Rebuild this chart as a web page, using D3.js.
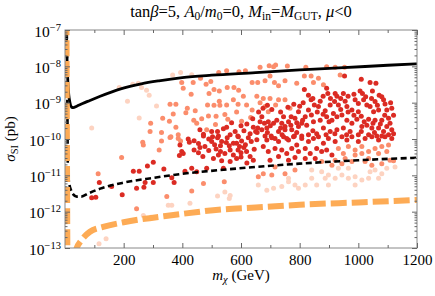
<!DOCTYPE html>
<html>
<head>
<meta charset="utf-8">
<script src="https://cdn.jsdelivr.net/npm/d3@7"></script>
<style>
body { margin: 0; background: #fff; }
svg text { font-family: "Liberation Serif", "Times New Roman", serif; }
</style>
</head>
<body>
<script>
// Tick values
var xMajor = [200, 400, 600, 800, 1000, 1200];
var xMinor = [100, 300, 500, 700, 900, 1100];
var yExponents = [-13, -12, -11, -10, -9, -8, -7];

// Current limit (solid black): [m_chi (GeV), sigma_SI (pb)]
var limitNow = [[4, 1.5e-7], [6, 3e-8], [8, 8e-9], [10, 3.5e-9], [13, 1.6e-9], [17, 1.0e-9],
    [22, 7.6e-10], [28, 7.3e-10], [40, 8.0e-10], [60, 9.5e-10], [85, 1.15e-9], [120, 1.5e-9],
    [190, 2.4e-9], [260, 3.3e-9], [320, 4.0e-9], [400, 4.9e-9], [500, 5.7e-9], [650, 6.7e-9],
    [800, 8.0e-9], [950, 9.2e-9], [1100, 1.07e-8], [1200, 1.17e-8]];

// Projected limit (dashed black)
var limitFuture = [[6, 1.5e-7], [8, 1e-9], [10, 1.1e-11], [12, 8e-12], [15, 5.5e-12], [20, 4e-12],
    [28, 3e-12], [40, 2.6e-12], [55, 2.6e-12], [80, 3.2e-12], [120, 4.3e-12], [200, 6.3e-12],
    [300, 8.5e-12], [400, 1.1e-11], [550, 1.45e-11], [650, 1.7e-11], [800, 2.1e-11],
    [1000, 2.6e-11], [1200, 3.05e-11]];

// Neutrino background (thick orange dashed)
var neutrinoFloor = [[5, 2e-7], [6, 1e-9], [7, 1e-11], [8, 1e-13], [9, 3e-14], [20, 2e-14],
    [30, 5e-14], [40, 1.0e-13], [55, 1.6e-13], [85, 2.8e-13], [130, 3.8e-13], [200, 5.1e-13],
    [370, 8.1e-13], [540, 1.16e-12], [650, 1.3e-12], [800, 1.55e-12], [1000, 1.8e-12],
    [1200, 2.1e-12]];

// Scan points, light
var pointsPale = [[91, 2.0e-10], [185, 2.6e-9], [213, 1.1e-9], [231, 3.2e-9], [250, 3.4e-9], [261, 2.6e-9],
    [278, 2.2e-9], [287, 1.6e-9], [253, 3.8e-10], [312, 8.1e-10], [367, 5.8e-9], [394, 6.8e-9], [432, 5.9e-9],
    [659, 5.4e-12], [688, 3.9e-12], [711, 4.4e-12], [739, 4.9e-12], [762, 6.7e-12], [784, 5.4e-12],
    [796, 4.4e-12], [819, 5.4e-12], [841, 8.3e-12], [858, 5.4e-12], [887, 8.3e-12], [898, 1.02e-11],
    [921, 8.3e-12], [944, 1.02e-11], [966, 8.3e-12], [989, 9.2e-12], [1012, 7.4e-12], [1040, 1.26e-11],
    [1057, 1.4e-11], [1080, 1.1e-11], [1097, 1.56e-11], [1069, 8.3e-12], [1035, 8.3e-12], [966, 1.56e-11],
    [932, 1.56e-11], [875, 1.26e-11], [841, 1.4e-11], [898, 5.4e-12], [989, 5.4e-12], [1125, 1.7e-11],
    [762, 8.3e-12], [267, 7.8e-13], [293, 7.0e-13], [352, 1.5e-12], [364, 1.5e-12], [426, 1.7e-12],
    [520, 2.7e-12], [545, 3.5e-12], [563, 2.8e-12], [560, 2.3e-12], [140, 1.8e-13], [116, 1.3e-13]];

// Scan points, medium
var pointsSalmon = [[398, 3.6e-9], [437, 3.6e-9], [462, 4.7e-9], [481, 3.2e-9], [497, 3.8e-9], [524, 6.8e-9],
    [551, 7.6e-9], [593, 7.1e-9], [615, 7.6e-9], [638, 3.6e-9], [403, 2.5e-9], [430, 1.7e-9], [491, 1.8e-9],
    [508, 2.3e-9], [526, 2.1e-9], [553, 2.6e-9], [576, 2.6e-9], [592, 2.2e-9], [608, 1.5e-9], [358, 9.0e-10],
    [378, 9.0e-10], [417, 7.0e-10], [412, 5.3e-10], [444, 6.0e-10], [369, 4.9e-10], [486, 8.6e-10],
    [508, 8.5e-10], [526, 1.1e-9], [528, 8.5e-10], [551, 8.6e-10], [574, 1.2e-9], [590, 9.0e-10],
    [619, 8.6e-10], [638, 6.3e-10], [292, 2.7e-10], [333, 3.7e-10], [356, 3.1e-10], [378, 2.1e-10],
    [290, 1.6e-10], [329, 1.5e-10], [386, 1.3e-10], [439, 3.3e-10], [449, 2.7e-10], [466, 3.6e-10],
    [483, 1.8e-10], [489, 4.3e-10], [515, 4.2e-10], [513, 2.5e-10], [545, 4.7e-10], [555, 3.5e-10],
    [585, 5.5e-10], [602, 3.1e-10], [633, 3.9e-10], [358, 1.1e-10],
    [665, 9.4e-9], [696, 1.04e-8], [711, 9.8e-9], [718, 1.09e-8], [758, 1.02e-8], [821, 9.4e-9],
    [657, 3.6e-9], [682, 4.0e-9], [699, 5.4e-9], [714, 3.6e-9], [728, 2.9e-9], [750, 4.0e-9],
    [790, 3.4e-9], [816, 5.4e-9], [839, 5.4e-9], [847, 3.6e-9], [864, 4.7e-9], [881, 3.1e-9],
    [892, 9.8e-9], [921, 9.4e-9], [938, 5.8e-9], [953, 9.4e-9], [654, 1.5e-9], [665, 1.0e-9],
    [676, 1.3e-9], [699, 1.3e-9], [728, 1.2e-9], [718, 8.6e-10], [750, 1.2e-9], [767, 7.0e-10],
    [682, 7.8e-10], [693, 5.6e-10],
    [932, 5.5e-11], [949, 4.0e-11], [966, 6.2e-11], [989, 5.0e-11], [1012, 6.2e-11], [1035, 4.5e-11],
    [1057, 5.5e-11], [1080, 6.2e-11], [1103, 6.8e-11], [676, 1.1e-11], [705, 1.02e-11], [750, 1.1e-11],
    [784, 1.4e-11], [659, 9.2e-12], [716, 1.7e-11], [875, 2.4e-11], [910, 1.9e-11], [944, 2.1e-11],
    [978, 2.4e-11], [1023, 2.4e-11], [1046, 1.9e-11], [1080, 2.1e-11], [1108, 2.6e-11], [1120, 2.5e-11],
    [989, 3.6e-11], [1012, 4.0e-11], [1069, 4.0e-11], [1097, 4.5e-11], [921, 2.6e-11], [955, 2.9e-11],
    [1035, 2.9e-11],
    [265, 8.1e-11], [267, 6.8e-11], [329, 8.8e-11], [361, 1.16e-10], [386, 1.04e-10], [394, 8.8e-11],
    [193, 3.1e-11], [321, 5.0e-11], [113, 1.1e-11], [244, 1.2e-12], [347, 2.6e-12], [432, 3.7e-12],
    [472, 6.0e-12], [543, 6.7e-12]];

// Scan points, dark
var pointsRed = [[472, 1.35e-10], [503, 1.16e-10], [523, 1.2e-10], [551, 2.1e-10], [563, 1.3e-10],
    [568, 2.8e-10], [589, 1.2e-10], [610, 1.7e-10], [631, 1.4e-10], [642, 2.1e-10], [640, 3.6e-10],
    [816, 2.3e-9], [830, 1.6e-9], [839, 1.2e-9], [892, 2.5e-9], [896, 1.8e-9], [921, 1.8e-9], [927, 1.5e-9],
    [949, 1.8e-9], [953, 5.4e-9], [1010, 4.4e-9], [1006, 2.1e-9], [1014, 1.8e-9], [1040, 3.6e-9],
    [1060, 3.4e-9], [1048, 2.1e-9], [1071, 1.6e-9], [1091, 9.2e-10], [1114, 7.0e-10], [1086, 1.2e-9],
    [1057, 1.07e-9], [989, 1.2e-9], [1018, 1.2e-9], [1029, 8.6e-10], [1040, 7.8e-10], [1052, 5.6e-10],
    [1069, 6.3e-10], [1097, 6.3e-10], [1103, 3.7e-10], [1108, 2.7e-10], [1080, 3.3e-10], [1057, 3.3e-10],
    [1035, 3.5e-10], [1000, 5.6e-10], [978, 6.3e-10], [955, 1.1e-9], [961, 7.8e-10], [932, 8.6e-10],
    [919, 1.07e-9], [904, 8.6e-10], [887, 6.0e-10], [864, 7.8e-10], [850, 8.6e-10], [830, 6.3e-10],
    [819, 4.1e-10], [796, 5.6e-10], [784, 3.7e-10], [771, 4.1e-10], [762, 3.0e-10], [745, 4.1e-10],
    [739, 2.7e-10], [722, 3.3e-10], [711, 2.7e-10], [693, 3.0e-10], [671, 4.1e-10], [657, 2.0e-10],
    [671, 1.8e-10], [688, 2.0e-10], [703, 1.2e-10], [728, 1.6e-10], [750, 1.8e-10], [773, 1.8e-10],
    [796, 2.2e-10], [807, 2.7e-10], [824, 2.4e-10], [847, 3.0e-10], [870, 3.3e-10], [892, 4.1e-10],
    [910, 3.3e-10], [927, 4.1e-10], [944, 4.6e-10], [961, 3.3e-10], [978, 2.7e-10], [995, 3.5e-10],
    [1012, 2.2e-10], [1029, 2.4e-10], [1046, 2.0e-10], [1069, 2.0e-10], [1086, 1.6e-10], [1103, 1.3e-10],
    [1114, 1.8e-10], [1097, 2.2e-10], [1063, 1.2e-10], [1035, 1.3e-10], [1000, 1.3e-10], [972, 1.6e-10],
    [949, 2.0e-10], [927, 1.8e-10], [904, 1.6e-10], [881, 2.0e-10], [858, 1.4e-10], [830, 1.3e-10],
    [807, 1.2e-10], [782, 1.2e-10], [756, 1.04e-10], [716, 1.04e-10], [682, 1.2e-10],
    [654, 9.6e-11], [688, 9.4e-11], [705, 1.09e-10], [728, 8.5e-11], [745, 1.16e-10], [762, 9.4e-11],
    [779, 1.16e-10], [790, 6.8e-11], [807, 1.04e-10], [830, 8.5e-11], [847, 1.04e-10], [864, 1.16e-10],
    [881, 7.6e-11], [898, 1.04e-10], [921, 8.5e-11], [944, 1.16e-10], [961, 9.4e-11], [978, 1.16e-10],
    [1000, 8.5e-11], [1023, 1.04e-10], [1046, 1.16e-10], [1069, 9.4e-11], [1091, 1.16e-10], [1114, 1.04e-10],
    [676, 6.2e-11], [693, 4.5e-11], [716, 5.5e-11], [739, 5.0e-11], [756, 4.0e-11], [773, 5.5e-11],
    [796, 4.5e-11], [819, 5.5e-11], [836, 4.0e-11], [858, 5.5e-11], [875, 4.5e-11], [892, 5.0e-11],
    [910, 3.6e-11], [699, 2.6e-11], [728, 3.3e-11], [762, 2.6e-11], [784, 3.1e-11], [819, 2.9e-11],
    [853, 2.9e-11],
    [424, 8.1e-11], [392, 6.8e-11], [398, 4.5e-11], [390, 3.5e-11], [403, 4.0e-11], [460, 5.8e-11],
    [477, 6.2e-11], [472, 1.2e-10], [500, 8.5e-11], [515, 5.3e-11], [523, 3.6e-11], [506, 2.9e-11],
    [534, 2.5e-11], [545, 4.0e-11], [563, 5.0e-11], [574, 3.6e-11], [585, 7.6e-11], [602, 8.8e-11],
    [610, 5.8e-11], [619, 4.5e-11], [631, 3.3e-11], [642, 2.6e-11], [585, 2.9e-11], [563, 2.4e-11],
    [540, 1.56e-11], [483, 1.56e-11], [449, 1.26e-11], [432, 1.56e-11], [409, 1.3e-11], [337, 1.5e-11],
    [301, 2.3e-11], [281, 1.8e-11], [253, 1.3e-11], [233, 1.3e-11], [117, 6.3e-12], [159, 4.9e-12],
    [195, 2.9e-12], [91, 2.4e-12], [105, 2.5e-12], [244, 4.4e-12], [269, 4.7e-12], [273, 6.4e-12],
    [301, 6.3e-12], [364, 8.6e-12], [372, 6.3e-12], [520, 1.09e-10], [534, 8.5e-11], [553, 1.09e-10],
    [574, 7.6e-11], [591, 1.16e-10], [625, 1.09e-10],
    [660, 5.5e-10], [675, 7.0e-10], [690, 8.5e-10], [705, 6.5e-10], [735, 5.5e-10], [760, 7.5e-10],
    [780, 9.0e-10], [800, 8.0e-10], [812, 1.0e-9], [845, 1.3e-9], [870, 1.1e-9], [880, 1.5e-9],
    [905, 1.3e-9], [940, 1.3e-9], [965, 1.5e-9], [985, 1.7e-9], [1000, 9.5e-10], [1025, 1.45e-9],
    [1045, 1.3e-9], [1065, 8.5e-10], [1080, 1.45e-9], [1110, 1.0e-9], [1120, 4.5e-10], [1090, 4.5e-10],
    [1075, 2.6e-10], [1050, 2.7e-10], [1020, 3.0e-10], [1010, 4.2e-10], [985, 4.5e-10], [965, 5.5e-10],
    [940, 6.5e-10], [915, 5.0e-10], [900, 3.0e-10], [880, 4.8e-10], [860, 5.5e-10], [840, 4.6e-10],
    [810, 3.3e-10], [790, 2.8e-10], [770, 2.4e-10], [750, 2.2e-10], [735, 2.0e-10], [700, 2.3e-10],
    [680, 2.7e-10], [665, 3.0e-10], [655, 1.5e-10], [690, 1.5e-10], [740, 1.3e-10], [790, 1.5e-10],
    [845, 1.7e-10], [890, 1.3e-10], [920, 1.4e-10], [960, 1.3e-10], [1010, 1.6e-10], [1055, 1.5e-10],
    [1080, 1.2e-10], [1120, 1.4e-10],
    [420, 1.0e-10], [440, 9.0e-11], [455, 7.5e-11], [490, 1.0e-10], [510, 7.0e-11], [530, 6.5e-11],
    [550, 8.0e-11], [560, 6.5e-11], [595, 6.2e-11], [615, 7.0e-11], [635, 8.5e-11], [645, 5.2e-11],
    [600, 4.2e-11], [590, 5.0e-11], [530, 4.5e-11], [490, 4.8e-11], [455, 4.2e-11], [440, 5.0e-11],
    [470, 3.3e-11], [600, 3.2e-11], [620, 2.2e-11], [540, 1.9e-10], [520, 1.6e-10], [580, 1.6e-10],
    [600, 2.3e-10], [620, 2.6e-10], [500, 1.6e-10], [460, 1.8e-10], [650, 1.6e-10]];

// SVG dimensions
var svgWidth = 435;
var svgHeight = 296;
var margin = { top: 30, right: 18, bottom: 48, left: 65 };
var chartWidth = svgWidth - margin.left - margin.right;
var chartHeight = svgHeight - margin.top - margin.bottom;

var svg = d3.select("body")
    .append("svg")
    .attr("width", svgWidth)
    .attr("height", svgHeight);

var chartGroup = svg.append("g")
    .attr("transform", `translate(${margin.left}, ${margin.top})`);

// Scales
var xScale = d3.scaleLinear().domain([0, 1200]).range([0, chartWidth]);
var yScale = d3.scaleLog().domain([1e-13, 1e-7]).range([chartHeight, 0]);

chartGroup.append("clipPath").attr("id", "plotclip")
    .append("rect").attr("width", chartWidth).attr("height", chartHeight);

var plot = chartGroup.append("g").attr("clip-path", "url(#plotclip)");

// Scatter points
function drawPoints(data, color) {
    plot.append("g").selectAll("circle")
        .data(data)
        .enter()
        .append("circle")
        .attr("cx", d => xScale(d[0]))
        .attr("cy", d => yScale(d[1]))
        .attr("r", 2.5)
        .attr("fill", color);
}
drawPoints(pointsPale, "#fdd3c1");
drawPoints(pointsSalmon, "#fb8d6c");
drawPoints(pointsRed, "#db2b23");

// Lines
var line = d3.line()
    .x(d => xScale(d[0]))
    .y(d => yScale(d[1]))
    .curve(d3.curveMonotoneX);

plot.append("path").datum(limitNow)
    .attr("d", line).attr("fill", "none")
    .attr("stroke", "#000").attr("stroke-width", 2.8);

plot.append("path").datum(limitFuture)
    .attr("d", line).attr("fill", "none")
    .attr("stroke", "#000").attr("stroke-width", 2.6)
    .attr("stroke-dasharray", "6,3.5");

plot.append("path").datum(neutrinoFloor)
    .attr("d", line).attr("fill", "none")
    .attr("stroke", "#fdab55").attr("stroke-width", 6)
    .attr("stroke-dasharray", "16,5");

// Frame
chartGroup.append("rect")
    .attr("width", chartWidth).attr("height", chartHeight)
    .attr("fill", "none").attr("stroke", "#888").attr("stroke-width", 1);

// Axes (ticks inside)
var yMinor = [];
yExponents.slice(0, -1).forEach(e => {
    for (var k = 2; k < 10; k++) yMinor.push(k * Math.pow(10, e));
});
var yMajor = yExponents.map(e => Math.pow(10, e));

function styleAxis(g) {
    g.select(".domain").remove();
    g.selectAll("line").attr("stroke", "#666");
}

chartGroup.append("g")
    .attr("transform", `translate(0, ${chartHeight})`)
    .call(d3.axisBottom(xScale).tickValues(xMajor).tickFormat(d3.format("d"))
        .tickSizeInner(-5).tickSizeOuter(0).tickPadding(6.5))
    .call(styleAxis)
    .call(g => g.selectAll("text").attr("font-size", 15).attr("fill", "#000"));
chartGroup.append("g")
    .attr("transform", `translate(0, ${chartHeight})`)
    .call(d3.axisBottom(xScale).tickValues(xMinor).tickSizeInner(-3).tickSizeOuter(0).tickFormat(""))
    .call(styleAxis);
chartGroup.append("g")
    .call(d3.axisTop(xScale).tickValues(xMajor).tickSizeInner(-5).tickSizeOuter(0).tickFormat(""))
    .call(styleAxis);
chartGroup.append("g")
    .call(d3.axisTop(xScale).tickValues(xMinor).tickSizeInner(-3).tickSizeOuter(0).tickFormat(""))
    .call(styleAxis);

chartGroup.append("g")
    .call(d3.axisLeft(yScale).tickValues(yMajor).tickSizeInner(-5).tickSizeOuter(0).tickFormat(""))
    .call(styleAxis);
chartGroup.append("g")
    .call(d3.axisLeft(yScale).tickValues(yMinor).tickSizeInner(-2.5).tickSizeOuter(0).tickFormat(""))
    .call(styleAxis);
chartGroup.append("g")
    .attr("transform", `translate(${chartWidth}, 0)`)
    .call(d3.axisRight(yScale).tickValues(yMajor).tickSizeInner(-5).tickSizeOuter(0).tickFormat(""))
    .call(styleAxis);
chartGroup.append("g")
    .attr("transform", `translate(${chartWidth}, 0)`)
    .call(d3.axisRight(yScale).tickValues(yMinor).tickSizeInner(-2.5).tickSizeOuter(0).tickFormat(""))
    .call(styleAxis);

// Y tick labels with superscripts
var yLabels = chartGroup.selectAll("text.ylab")
    .data(yExponents)
    .enter()
    .append("text")
    .attr("class", "ylab")
    .attr("x", -4)
    .attr("y", d => yScale(Math.pow(10, d)) + 6.5)
    .attr("text-anchor", "end")
    .attr("font-size", 15.5);
yLabels.append("tspan").text("10");
yLabels.append("tspan").attr("dy", -6).attr("font-size", 10.5).text(d => "\u2212" + Math.abs(d));

// Title
var title = svg.append("text")
    .attr("x", margin.left + chartWidth / 2)
    .attr("y", 17)
    .attr("text-anchor", "middle")
    .attr("font-size", 16.5);
var titleParts = [
    ["tan", "n"], ["β", "i"], ["=5, ", "n"], ["A", "i"], ["0", "s"], ["/", "n"], ["m", "i"], ["0", "s"],
    ["=0, ", "n"], ["M", "i"], ["in", "s"], ["=", "n"], ["M", "i"], ["GUT", "s"], [", ", "n"],
    ["μ", "i"], ["<0", "n"]
];
var prevSub = false;
titleParts.forEach(p => {
    var t = title.append("tspan").text(p[0]);
    if (p[1] === "i") t.attr("font-style", "italic");
    if (p[1] === "s") { t.attr("font-size", 11.5).attr("dy", 3); prevSub = true; }
    else if (prevSub) { t.attr("dy", -3); prevSub = false; }
});

// X axis label
var xLabel = svg.append("text")
    .attr("x", margin.left + chartWidth / 2)
    .attr("y", 280)
    .attr("text-anchor", "middle")
    .attr("font-size", 15);
xLabel.append("tspan").attr("font-style", "italic").text("m");
xLabel.append("tspan").attr("font-style", "italic").attr("font-size", 10.5).attr("dy", 3).text("χ");
xLabel.append("tspan").attr("dy", -3).text(" (GeV)");

// Y axis label
var yLabel = svg.append("text")
    .attr("transform", `translate(15, ${margin.top + chartHeight / 2}) rotate(-90)`)
    .attr("text-anchor", "middle")
    .attr("font-size", 15);
yLabel.append("tspan").attr("font-style", "italic").text("σ");
yLabel.append("tspan").attr("font-size", 10.5).attr("dy", 3).text("SI");
yLabel.append("tspan").attr("dy", -3).text(" (pb)");
</script>
</body>
</html>
